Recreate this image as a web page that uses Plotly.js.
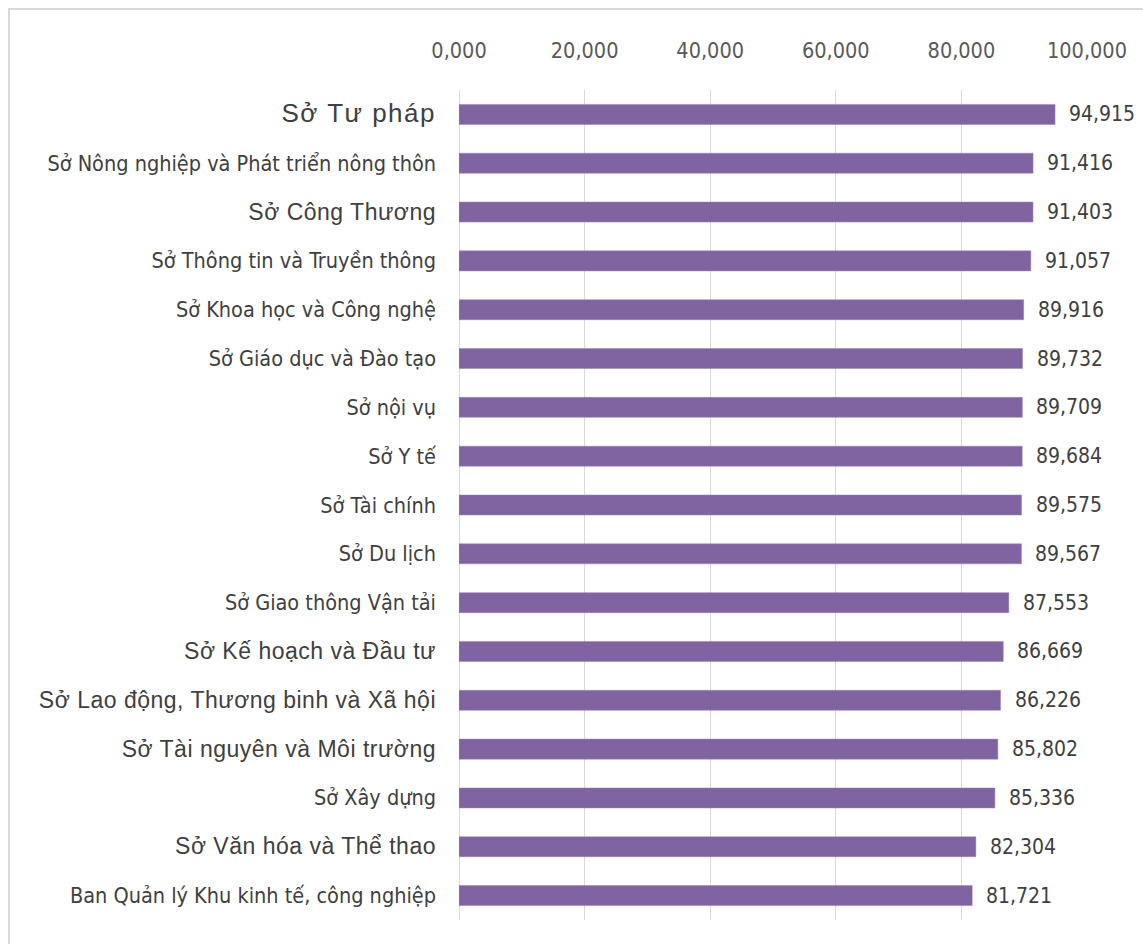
<!DOCTYPE html>
<html>
<head>
<meta charset="utf-8">
<script src="https://cdn.plot.ly/plotly-3.0.1.min.js"></script>
<style>
  html, body { margin: 0; padding: 0; background: #ffffff; }
  #frame { position: absolute; left: 8px; top: 8px; width: 1150px; height: 950px; border: 2px solid #d9d9d9; box-sizing: border-box; }
  #chart { position: absolute; left: 0; top: 0; width: 1143px; height: 944px; }
</style>
</head>
<body>
<div id="frame"></div>
<div id="chart"></div>
<script>
const categories = [
  "Sở Tư pháp",
  "Sở Nông nghiệp và Phát triển nông thôn",
  "Sở Công Thương",
  "Sở Thông tin và Truyền thông",
  "Sở Khoa học và Công nghệ",
  "Sở Giáo dục và Đào tạo",
  "Sở nội vụ",
  "Sở Y tế",
  "Sở Tài chính",
  "Sở Du lịch",
  "Sở Giao thông Vận tải",
  "Sở Kế hoạch và Đầu tư",
  "Sở Lao động, Thương binh và Xã hội",
  "Sở Tài nguyên và Môi trường",
  "Sở Xây dựng",
  "Sở Văn hóa và Thể thao",
  "Ban Quản lý Khu kinh tế, công nghiệp"
];
const values = [94.915, 91.416, 91.403, 91.057, 89.916, 89.732, 89.709, 89.684, 89.575, 89.567, 87.553, 86.669, 86.226, 85.802, 85.336, 82.304, 81.721];
const tickValues = [0, 20, 40, 60, 80, 100];

// label typesetting: a few labels used a larger sans face in the original
const faceStyle = {
  big: "font-family:'Liberation Sans', Arial, sans-serif;font-size:26px;letter-spacing:1.5px;",
  large: "font-family:'Liberation Sans', Arial, sans-serif;font-size:23px;letter-spacing:0.5px;",
  small: "font-family:'DejaVu Sans Condensed', sans-serif;font-size:21.5px;"
};
const faceOf = i => (i === 0 ? 'big' : ([2, 11, 12, 13, 15].includes(i) ? 'large' : 'small'));
const ticktext = categories.map((c, i) => '<span style="' + faceStyle[faceOf(i)] + '">' + c + '</span>');

const fmt = v => v.toFixed(3).replace('.', ',');

const trace = {
  type: 'bar',
  orientation: 'h',
  x: values,
  y: categories,
  marker: { color: '#8064A2', line: { color: '#9a83b8', width: 0.5 } },
  hoverinfo: 'skip'
};

const annotations = values.map((v, i) => ({
  x: v, y: categories[i], xref: 'x', yref: 'y',
  text: fmt(v), showarrow: false, xanchor: 'left', yanchor: 'middle', xshift: 12,
  font: { family: "'DejaVu Sans Condensed', sans-serif", size: 21, color: '#404040' }
}));

const layout = {
  width: 1143, height: 944,
  margin: { l: 459, r: 56, t: 90, b: 24 },
  paper_bgcolor: 'rgba(0,0,0,0)',
  plot_bgcolor: 'rgba(0,0,0,0)',
  separators: ',.',
  showlegend: false,
  bargap: 0.59,
  xaxis: {
    side: 'top',
    range: [0, 100],
    tickvals: tickValues,
    tickformat: '.3f',
    showgrid: true, gridcolor: '#d9d9d9', gridwidth: 1,
    zeroline: true, zerolinecolor: '#d9d9d9', zerolinewidth: 1,
    showline: false, ticks: '',
    ticklabelstandoff: 27,
    tickfont: { family: "'DejaVu Sans Condensed', sans-serif", size: 21.5, color: '#595959' },
    fixedrange: true
  },
  yaxis: {
    autorange: 'reversed',
    type: 'category',
    tickvals: categories,
    ticktext: ticktext,
    showgrid: false, zeroline: false, showline: false, ticks: '',
    ticklabelstandoff: 22,
    tickfont: { family: "'DejaVu Sans Condensed', sans-serif", size: 21.5, color: '#404040' },
    fixedrange: true
  },
  annotations: annotations
};

Plotly.newPlot('chart', [trace], layout, { displayModeBar: false, staticPlot: true });
</script>
</body>
</html>
